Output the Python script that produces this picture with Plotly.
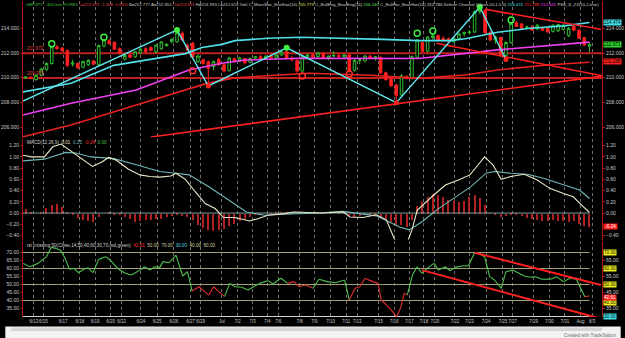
import plotly.graph_objects as go

# ---------------- data ----------------
bars = list(range(109))
open_ = [210.00, 210.05, 209.85, 210.20, 210.65, 211.15, 212.50, 212.40, 212.20, 211.10,
         211.15, 210.85, 211.05, 211.35, 211.05, 212.55, 213.00, 212.85, 212.35, 211.50,
         211.85, 211.70, 212.00, 212.35, 212.45, 212.10, 212.35, 212.60, 212.90, 212.90,
         213.60, 212.65, 212.80, 211.30, 211.45, 211.30, 210.90, 211.50, 211.05, 210.60,
         211.55, 211.35, 211.55, 211.25, 211.60, 211.70, 211.55, 211.75, 211.60, 211.85,
         212.10, 211.60, 211.40, 210.55, 211.70, 211.85, 211.70, 211.95, 211.60, 211.75,
         211.80, 211.70, 211.85, 210.60, 211.40, 211.35, 211.75, 211.55, 211.65, 210.40,
         209.90, 209.40, 208.60, 210.10, 209.95, 211.65, 212.85, 212.15, 213.25, 213.40,
         213.20, 213.15, 212.90, 213.15, 213.55, 213.65, 213.70, 215.35, 215.45, 213.65,
         213.05, 213.25, 211.80, 212.85, 214.45, 214.35, 214.05, 214.10, 213.95, 214.05,
         214.00, 213.75, 213.80, 213.90, 213.40, 214.15, 213.85, 213.25, 212.55]
high = [210.15, 210.10, 210.30, 210.80, 211.25, 212.60, 212.65, 212.50, 212.30, 211.45,
        211.25, 211.40, 211.50, 211.45, 212.70, 213.10, 213.10, 212.95, 212.45, 211.90,
        212.00, 212.15, 212.40, 212.50, 212.55, 212.70, 212.95, 212.80, 213.20, 213.85,
        213.75, 212.75, 212.90, 211.90, 211.55, 211.40, 211.40, 211.60, 211.15, 211.70,
        211.65, 211.70, 211.60, 211.65, 211.75, 211.85, 211.80, 211.90, 211.95, 212.20,
        212.40, 211.75, 211.50, 211.80, 211.95, 212.00, 212.10, 212.05, 211.80, 212.15,
        211.95, 211.90, 211.95, 211.50, 211.55, 211.85, 211.85, 211.75, 211.75, 210.50,
        210.05, 209.50, 210.30, 210.20, 211.80, 213.15, 212.95, 213.35, 213.55, 213.50,
        213.35, 213.25, 213.30, 213.65, 213.75, 213.85, 215.45, 215.70, 215.55, 213.80,
        213.40, 213.35, 212.95, 214.50, 214.60, 214.45, 214.25, 214.25, 214.35, 214.15,
        214.10, 214.30, 214.35, 214.35, 214.10, 214.25, 213.95, 213.30, 212.85]
low = [209.90, 209.85, 209.75, 210.10, 210.55, 211.05, 212.25, 212.10, 210.85, 210.90,
       210.70, 210.75, 210.95, 211.00, 210.95, 212.45, 212.70, 212.25, 211.90, 211.40,
       211.60, 211.60, 211.90, 212.05, 212.15, 212.00, 212.25, 212.50, 212.80, 212.85,
       212.95, 212.15, 211.60, 211.20, 211.05, 209.40, 210.60, 210.95, 210.45, 210.50,
       211.20, 211.25, 211.10, 211.15, 211.45, 211.50, 211.45, 211.55, 211.50, 211.75,
       211.50, 211.30, 210.40, 210.45, 211.55, 211.60, 211.60, 211.55, 211.40, 211.65,
       211.60, 211.55, 210.40, 210.50, 211.10, 211.25, 211.55, 211.40, 210.30, 209.75,
       209.25, 208.00, 208.50, 209.85, 209.85, 211.55, 212.10, 212.05, 213.05, 213.00,
       212.95, 212.90, 212.80, 213.05, 213.35, 213.50, 213.60, 215.15, 213.55, 212.95,
       212.75, 211.70, 211.50, 212.75, 214.10, 213.95, 213.95, 213.80, 213.85, 213.80,
       213.65, 213.65, 213.70, 213.80, 213.30, 213.80, 213.15, 212.55, 212.05]
close = [210.05, 209.95, 210.20, 210.70, 211.15, 212.50, 212.35, 212.20, 211.00, 211.20,
         210.80, 211.30, 211.40, 211.10, 212.60, 213.05, 212.75, 212.30, 211.95, 211.80,
         211.65, 212.10, 212.30, 212.10, 212.20, 212.65, 212.90, 212.70, 213.10, 213.65,
         213.05, 212.25, 211.70, 211.75, 211.15, 210.75, 211.30, 211.05, 210.55, 211.60,
         211.30, 211.60, 211.20, 211.55, 211.70, 211.55, 211.75, 211.60, 211.85, 212.10,
         211.60, 211.45, 210.55, 211.70, 211.85, 211.65, 212.00, 211.60, 211.75, 211.80,
         211.70, 211.85, 210.55, 211.40, 211.45, 211.75, 211.60, 211.70, 210.40, 209.85,
         209.35, 208.55, 210.15, 209.95, 211.70, 213.05, 212.15, 213.30, 213.40, 213.05,
         213.00, 212.95, 213.20, 213.55, 213.65, 213.70, 215.35, 215.45, 213.65, 213.05,
         213.30, 211.80, 212.85, 214.40, 214.15, 214.00, 214.10, 213.85, 214.25, 213.85,
         213.70, 214.25, 214.30, 214.25, 214.00, 213.85, 213.20, 212.65, 212.70]

# Keltner channel (bar, value) vertices
kc_up_bar = [-0.5, 8.7, 16.9, 24.4, 30.6, 33.8, 37.6, 40.1, 46.5, 52.7, 60.3, 68.4, 75.3, 81.4, 84.2, 90.4, 96.7, 103.1, 108]
kc_up_val = [208.85, 209.55, 211.0, 211.5, 211.95, 212.45, 212.7, 213.0, 213.2, 213.27, 213.2, 213.1, 213.0, 213.0, 213.15, 213.68, 214.0, 214.2, 214.47]
kc_mid_bar = [-0.5, 8.7, 21.2, 31.3, 37.6, 42.0, 52.7, 75.3, 90.4, 106.8, 108]
kc_mid_val = [206.98, 207.93, 209.0, 210.62, 211.17, 211.43, 211.57, 211.55, 212.25, 212.88, 212.88]
kc_lo_bar = [-0.5, 8.7, 21.2, 29.4, 34.4, 40.1, 54.3, 66.0, 75.3, 84.2, 90.4, 99.9, 108]
kc_lo_val = [205.22, 206.17, 207.79, 208.87, 209.5, 210.0, 210.36, 210.2, 209.95, 210.22, 210.63, 211.03, 211.25]

# zigzag pivots
zz_bar = [-0.5, 29, 35, 50, 71, 87, 92]
zz_val = [208.11, 213.87, 209.33, 212.42, 207.98, 215.72, 211.47]

# horizontal support / resistance levels
hline_vals = [211.972, 209.975]
hline_text = ["211.972", "209.975"]

# trend lines: (bar0, val0, bar1, val1)
price_trend = [(24.0, 205.2, 110.6, 210.14),
               (88.0, 215.54, 110.2, 213.92),
               (78.7, 212.79, 110.6, 210.14)]

# pattern markers
g_open_bar = [5, 15, 75, 78, 93]
g_open_val = [212.75, 213.27, 213.6, 213.78, 214.67]
g_fill_bar = [29, 50, 87]
g_fill_val = [213.87, 212.42, 215.72]
r_open_bar = [32, 53, 62]
r_open_val = [210.57, 210.14, 210.3]
r_fill_bar = [35, 71, 92]
r_fill_val = [209.33, 207.98, 211.47]

# MACD
macd_bar = [-0.5, 1.1, 3.6, 5.2, 6.8, 8.4, 10.6, 12.8, 14.6, 15.9, 17.4, 19.7, 21.9, 23.8, 25.7, 27.8, 28.8,
            30.6, 32.5, 34.4, 36.3, 37.9, 40.1, 42.9, 44.5, 46.4, 49.5, 51.4, 56.5, 60.8, 62.1, 64.6, 67.2,
            69.1, 70.9, 73.1, 74.0, 75.0, 77.8, 80.4, 82.9, 85.1, 86.7, 87.9, 89.5, 91.1, 92.9, 95.5, 98.0,
            100.4, 103.0, 104.9, 106.5, 108]
macd_val = [1.03, 1.0, 1.0, 1.18, 1.23, 1.12, 0.97, 0.83, 0.91, 0.99, 0.94, 0.78, 0.68, 0.65, 0.64, 0.66, 0.71,
            0.60, 0.38, 0.17, 0.08, -0.08, -0.08, -0.14, -0.10, -0.04, -0.01, 0.02, 0.0, 0.02, -0.07, -0.08, -0.03,
            -0.12, -0.52, -0.52, -0.30, 0.05, 0.29, 0.50, 0.59, 0.68, 0.86, 1.0, 0.86, 0.60, 0.65, 0.69, 0.59,
            0.44, 0.35, 0.29, 0.14, 0.01]
sig_bar = [-0.5, 3.6, 7.7, 9.6, 12.5, 16.9, 21.2, 25.7, 28.8, 31.3, 35.1, 38.9, 42.3, 45.8, 49.5, 56.5, 60.8,
           67.2, 71.6, 73.5, 76.0, 79.1, 82.9, 85.3, 88.2, 89.8, 92.9, 96.1, 99.2, 103.0, 106.1, 108]
sig_val = [0.93, 0.96, 1.08, 1.07, 1.0, 0.97, 0.86, 0.74, 0.71, 0.68, 0.47, 0.23, 0.02, -0.04, -0.02, 0.0, 0.03,
           -0.05, -0.25, -0.30, -0.15, 0.08, 0.32, 0.47, 0.71, 0.74, 0.71, 0.69, 0.62, 0.50, 0.41, 0.26]
macd_hist = [0.08, 0.02, 0.0, 0.02, 0.1, 0.15, 0.17, 0.12, 0.03, -0.02,
             -0.08, -0.12, -0.13, -0.15, -0.07, 0.0, 0.02, -0.01, -0.03, -0.06,
             -0.1, -0.15, -0.14, -0.12, -0.12, -0.1, -0.09, -0.07, -0.04, -0.02,
             -0.04, -0.07, -0.12, -0.2, -0.26, -0.3, -0.31, -0.3, -0.28, -0.22,
             -0.18, -0.14, -0.09, -0.06, -0.03, -0.01, 0.0, 0.01, 0.02, 0.02,
             0.03, 0.02, 0.01, 0.0, 0.01, 0.01, 0.02, 0.01, 0.0, 0.0,
             0.01, 0.01, -0.05, -0.06, -0.05, -0.03, -0.02, -0.03, -0.07, -0.1,
             -0.15, -0.2, -0.2, -0.24, -0.12, 0.13, 0.2, 0.29, 0.34, 0.33,
             0.29, 0.25, 0.23, 0.2, 0.22, 0.3, 0.33, 0.28, 0.15, 0.01,
             -0.02, -0.06, -0.04, -0.02, -0.03, -0.05, -0.08, -0.1, -0.12, -0.13,
             -0.13, -0.12, -0.13, -0.13, -0.15, -0.14, -0.18, -0.22, -0.24]

# RSI (bar, value, colour of segment starting here)
rsi_bar = [-0.45, 0.8, 2.4, 4.0, 4.9, 5.8, 6.8, 7.7, 8.4, 9.3, 10.1, 11.2, 11.9, 12.9, 14.0, 15.3, 16.2, 17.8,
           19.1, 20.3, 21.9, 22.8, 23.8, 24.7, 25.7, 26.3, 27.5, 28.8, 30.1, 31.0, 31.9, 33.2, 35.1, 36.0, 37.0,
           38.1, 39.1, 40.1, 41.4, 42.6, 43.9, 44.8, 46.4, 47.4, 48.9, 50.2, 51.4, 52.4, 53.6, 55.0, 56.2, 57.7,
           59.3, 60.6, 61.1, 62.0, 63.1, 64.0, 65.0, 66.5, 67.5, 68.1, 69.1, 70.0, 71.1, 71.9, 72.5, 73.1, 74.1,
           75.0, 75.9, 76.9, 78.2, 79.1, 80.4, 81.3, 82.3, 83.5, 84.8, 86.0, 87.0, 87.9, 88.9, 89.8, 91.1, 92.0,
           93.3, 94.5, 95.5, 96.7, 97.7, 98.9, 100.5, 101.7, 103.0, 104.3, 105.5, 107.1, 108.0]
rsi_val = [63.2, 61.1, 63.2, 67.4, 73.2, 72.6, 71.1, 65.3, 59.5, 60.1, 57.4, 59.5, 60.5, 57.4, 65.7, 67.4, 65.3, 59.5,
           57.0, 55.9, 59.0, 61.1, 59.0, 61.1, 60.7, 64.3, 63.6, 68.4, 55.3, 58.0, 45.9, 48.6, 43.4, 48.6, 45.5,
           42.4, 50.7, 48.6, 48.3, 46.6, 49.1, 50.7, 52.4, 50.3, 53.9, 50.7, 51.8, 48.6, 49.7, 47.6, 53.3, 51.8,
           51.1, 52.4, 52.8, 40.3, 47.6, 48.6, 53.9, 51.8, 50.7, 40.3, 37.2, 34.1, 29.9, 36.1, 44.5, 43.4, 55.9,
           61.1, 57.0, 60.1, 63.2, 59.0, 61.1, 58.6, 60.7, 61.6, 61.6, 69.9, 69.1, 67.4, 54.9, 52.8, 47.6, 58.0,
           59.0, 57.0, 55.3, 54.5, 54.9, 53.3, 53.3, 54.9, 51.8, 53.9, 53.3, 42.4, 42.8]
rsi_state = ("gggggggggggggggggggggggggggggg"   # 0-29
             "rrrrr"                            # 30-34
             "gggggggggg"                       # 35-44
             "rrrr"                             # 45-48
             "gggggg"                           # 49-54
             "rrrrrrrrrrrr"                     # 55-66
             "gggggggggggggggggggggggggggggg"   # 67-96
             "rr")                              # 97-98
rsi_levels = [70, 60, 50, 40, 30]
rsi_trend = [(86.0, 69.9, 110.2, 49.7), (75.9, 59.0, 110.2, 28.6)]

date_labels = ["6/13", "6/15", "6/17", "6/18", "6/19", "6/20", "6/22", "6/24", "6/25", "6/26", "6/27", "6/29",
               "Jul", "7/2", "7/3", "7/4", "7/6", "7/8", "7/9", "7/10", "7/11", "7/13", "7/15", "7/16", "7/17",
               "7/18", "7/20", "7/22", "7/23", "7/24", "7/25", "7/27", "7/29", "7/30", "7/31", "Aug", "8/3"]
date_pos = [1.6, 3.4, 7.2, 10.4, 13.3, 16.3, 18.4, 22.1, 25.2, 28.4, 31.6, 33.5, 37.6, 40.6, 43.5, 46.3, 48.4,
            52.5, 55.3, 58.4, 61.4, 63.5, 67.6, 70.6, 73.5, 76.3, 78.4, 82.2, 85.0, 88.2, 91.4, 93.3, 97.3,
            100.3, 103.3, 106.3, 108.5]

# ---------------- figure ----------------
FONT = "Liberation Sans, Arial, sans-serif"
TICK = "#c8c8c8"
XR = [-0.5, 110.4]
PR = [205.16, 216.21]
MR = [-0.471, 1.328]
RR = [29.69, 77.5]

fig = go.Figure()

# price panel lines
fig.add_trace(go.Scatter(x=kc_lo_bar, y=kc_lo_val, mode="lines", line=dict(color="#e82020", width=1.6)))
fig.add_trace(go.Scatter(x=kc_mid_bar, y=kc_mid_val, mode="lines", line=dict(color="#f040f0", width=1.6)))
fig.add_trace(go.Scatter(x=kc_up_bar, y=kc_up_val, mode="lines", line=dict(color="#50e0e8", width=1.6)))
for b0, v0, b1, v1 in price_trend:
    fig.add_trace(go.Scatter(x=[b0, b1], y=[v0, v1], mode="lines", line=dict(color="#ff2020", width=1.6)))

fig.add_trace(go.Candlestick(x=bars, open=open_, high=high, low=low, close=close,
                             increasing=dict(line=dict(color="#30c030", width=1), fillcolor="#000000"),
                             decreasing=dict(line=dict(color="#ff2020", width=1), fillcolor="#ff2020"),
                             whiskerwidth=0))
fig.add_trace(go.Scatter(x=zz_bar, y=zz_val, mode="lines", line=dict(color="#60e8f0", width=1.4)))

fig.add_trace(go.Scatter(x=g_open_bar, y=g_open_val, mode="markers",
                         marker=dict(symbol="circle-open", size=6, color="#40f040", line=dict(width=1.4))))
fig.add_trace(go.Scatter(x=g_fill_bar, y=g_fill_val, mode="markers",
                         marker=dict(symbol="circle", size=6, color="#40f040")))
fig.add_trace(go.Scatter(x=r_open_bar, y=r_open_val, mode="markers",
                         marker=dict(symbol="circle-open", size=6, color="#ff3030", line=dict(width=1.4))))
fig.add_trace(go.Scatter(x=r_fill_bar, y=r_fill_val, mode="markers",
                         marker=dict(symbol="circle", size=5, color="#ff2020")))

# MACD panel
fig.add_trace(go.Bar(x=bars, y=macd_hist, width=0.22, marker=dict(color="#b02020", line=dict(width=0)),
                     xaxis="x2", yaxis="y2"))
fig.add_trace(go.Scatter(x=[bars[0] - 0.5, bars[-1]], y=[0, 0], mode="lines",
                         line=dict(color="#7a9a9a", width=1), xaxis="x2", yaxis="y2"))
fig.add_trace(go.Scatter(x=sig_bar, y=sig_val, mode="lines", line=dict(color="#70b8b8", width=1.1),
                         xaxis="x2", yaxis="y2"))
fig.add_trace(go.Scatter(x=macd_bar, y=macd_val, mode="lines", line=dict(color="#e8e8c8", width=1.1),
                         xaxis="x2", yaxis="y2"))

# RSI panel
for lv in rsi_levels:
    col = "#d0d0d0" if lv == 30 else "#a0a070"
    fig.add_trace(go.Scatter(x=[bars[0] - 0.5, bars[-1]], y=[lv, lv], mode="lines",
                             line=dict(color=col, width=1), xaxis="x3", yaxis="y3"))
gx, gy, rx, ry = [], [], [], []
for k in range(len(rsi_bar) - 1):
    tx, ty = (gx, gy) if rsi_state[k] == "g" else (rx, ry)
    tx += [rsi_bar[k], rsi_bar[k + 1], None]
    ty += [rsi_val[k], rsi_val[k + 1], None]
fig.add_trace(go.Scatter(x=gx, y=gy, mode="lines", line=dict(color="#50c050", width=1.1), xaxis="x3", yaxis="y3"))
fig.add_trace(go.Scatter(x=rx, y=ry, mode="lines", line=dict(color="#e03030", width=1.1), xaxis="x3", yaxis="y3"))
for b0, v0, b1, v1 in rsi_trend:
    fig.add_trace(go.Scatter(x=[b0, b1], y=[v0, v1], mode="lines", line=dict(color="#ff2020", width=2),
                             xaxis="x3", yaxis="y3"))

# dummy traces to create right-hand axes
for ya in ["y4", "y5", "y6"]:
    xa = {"y4": "x", "y5": "x2", "y6": "x3"}[ya]
    fig.add_trace(go.Scatter(x=[None], y=[None], xaxis=xa, yaxis=ya, hoverinfo="skip"))

# horizontal price levels
for v in hline_vals:
    fig.add_shape(type="line", xref="x", yref="y", x0=XR[0], x1=XR[1], y0=v, y1=v,
                  line=dict(color="#c02020", width=2), layer="below")

H_TOP, H_BOT = 1, 317
def py(ypx):
    return (H_BOT - ypx) / (H_BOT - H_TOP)

dom_p = [py(137.5), 1.0]
dom_m = [py(239.5), py(138.5)]
dom_r = [0.0, py(240.5)]

def xaxis(anchor, labels):
    return dict(domain=[0, 1], range=XR, anchor=anchor, showgrid=True, griddash="dot", gridcolor="#707070",
                gridwidth=1, tickvals=date_pos, ticktext=date_labels, showticklabels=labels, ticks="",
                tickangle=0, zeroline=False, showline=False,
                tickfont=dict(size=4.5, color=TICK, family=FONT))

def yaxis(dom, rng, vals, fmt, side="left", overlay=None, anchor=None):
    d = dict(range=rng, tickvals=vals, tickformat=fmt, showgrid=False, zeroline=False, side=side,
             showline=True, linecolor="#b01818", linewidth=1, ticks="outside", ticklen=2, tickcolor="#b01818",
             tickfont=dict(size=5, color=TICK, family=FONT))
    if overlay:
        d["overlaying"] = overlay
        d["anchor"] = anchor
    else:
        d["domain"] = dom
        d["anchor"] = anchor
    return d

pt = [206, 208, 210, 212, 214]
mt = [-0.4, -0.2, 0.0, 0.2, 0.4, 0.6, 0.8, 1.0, 1.2]
mt_right = [-0.4, 0.0, 0.2, 0.4, 0.6, 0.8, 1.0, 1.2]
rt = [35, 40, 45, 50, 55, 60, 65, 70]
rt_right = [35, 45, 55, 65]

fig.update_layout(
    width=625, height=338, margin=dict(l=18, r=19, t=H_TOP, b=338 - H_BOT),
    paper_bgcolor="#000000", plot_bgcolor="#000000", showlegend=False, bargap=0,
    xaxis=xaxis("y", False), xaxis2=xaxis("y2", False), xaxis3=xaxis("y3", True),
    yaxis=yaxis(dom_p, PR, pt, ".3f", anchor="x"),
    yaxis2=yaxis(dom_m, MR, mt, ".2f", anchor="x2"),
    yaxis3=yaxis(dom_r, RR, rt, ".2f", anchor="x3"),
    yaxis4=yaxis(None, PR, pt, ".3f", side="right", overlay="y", anchor="x"),
    yaxis5=yaxis(None, MR, mt_right, ".2f", side="right", overlay="y2", anchor="x2"),
    yaxis6=yaxis(None, RR, rt_right, ".2f", side="right", overlay="y3", anchor="x3"),
    font=dict(family=FONT, color=TICK),
)
fig.update_xaxes(rangeslider_visible=False)

ann = []
def span(t, c):
    return '<span style="color:%s">%s</span>' % (c, t)

header = " ".join([
    span("GBPJPY - 400 min FOREX", "#40c040"), span("L=212.671", "#e04040"), span("-1.308", "#e04040"),
    span("-0.65%", "#e04040"), span("B=212.777", "#d0d0d0"), span("A=212.851", "#d0d0d0"),
    span("O=213.913", "#e04040"), span("H=213.933", "#d0d0d0"), span("L=212.613", "#d0d0d0"),
    span("V=0", "#d0d0d0"), span("C_MornStar_EveStar(14)", "#d0d0d0"), span("205.773", "#e0e060"),
    span("C_BullEng_BearEng(14)", "#d0d0d0"), span("206.140", "#60e060"),
    span("C_BullHar_BearHar(14)", "#d0d0d0"), span("212.760", "#e0e0e0"),
    span("Keltner Channel (Close,50,1.5,0)", "#d0d0d0"), span("214.474", "#50e0e8"),
    span("211.288", "#ff3030"), span("212.841", "#f040f0"), span("PSS_S_ZZ(10,2,true)", "#d0d0d0")])
ann.append(dict(xref="paper", yref="paper", x=0.002, y=py(4), xanchor="left", yanchor="middle",
                text=header, showarrow=False, font=dict(size=4.3, family=FONT)))

macd_title = "  ".join([span("MACD(12,26,9)", "#d0d0d0"), span("0.01", "#e8e8c8"), span("0.25", "#70b8b8"),
                        span("-0.24", "#ff3030"), span("0.00", "#50c050")])
ann.append(dict(xref="paper", yref="paper", x=0.003, y=py(142), xanchor="left", yanchor="middle",
                text=macd_title, showarrow=False, font=dict(size=4.6, family=FONT)))
rsi_title = "  ".join([span("rsi crossing 50(Close,14,50,40,60,30,70,red,green)", "#d0d0d0"),
                       span("42.61", "#ff3030"), span("50.00", "#d0d0a0"), span("70.00", "#d0d0a0"),
                       span("30.00", "#60d0e0"), span("40.00", "#d0d0a0"), span("60.00", "#d0d0a0")])
ann.append(dict(xref="paper", yref="paper", x=0.003, y=py(245), xanchor="left", yanchor="middle",
                text=rsi_title, showarrow=False, font=dict(size=4.6, family=FONT)))

for v, t in zip(hline_vals, hline_text):
    ann.append(dict(xref="x", yref="y", x=XR[0] + 0.3, y=v, xanchor="left", yanchor="bottom", text=t,
                    showarrow=False, font=dict(size=4.6, color="#e04040", family=FONT)))

def box(yref, v, t, bg, fg, shift=0):
    ann.append(dict(xref="paper", yref=yref, x=1.002, y=v, xanchor="left", yanchor="middle", text=t,
                    showarrow=False, bgcolor=bg, borderpad=0, yshift=shift,
                    font=dict(size=4.6, color=fg, family=FONT)))

box("y", 214.474, "214.474", "#40e0e8", "#000000")
box("y", 212.671, "212.671", "#30d030", "#000000")
box("y", 211.288, "211.288", "#ff2020", "#000000")
box("y2", -0.24, " -0.24 ", "#ff2020", "#ffffff")
for v in [70, 60, 50]:
    box("y3", v, "%.2f" % v, "#f0f020", "#000000")
box("y3", 40, "40.00", "#f0f020", "#000000", shift=-2.2)
box("y3", 42.61, "42.61", "#ff2020", "#ffffff", shift=-1.2)
box("y3", 30, "30.00", "#40e0e8", "#000000")

ann.append(dict(xref="paper", yref="paper", x=1.03, y=py(335), xanchor="right", yanchor="middle",
                text="Created with TradeStation", showarrow=False, font=dict(size=4.5, color="#707070", family=FONT)))
fig.update_layout(annotations=ann)

def px_x(x):
    return (x - 18) / 588.0

fig.add_shape(type="rect", xref="paper", yref="paper", x0=px_x(0), x1=px_x(625), y0=py(338), y1=py(326.5),
              fillcolor="#f2f2f2", line=dict(width=0), layer="below")
fig.add_shape(type="rect", xref="paper", yref="paper", x0=px_x(6), x1=px_x(606), y0=py(331), y1=py(327.5),
              fillcolor="#d4d4d4", line=dict(width=0), layer="below")

fig.write_html("out.html")
